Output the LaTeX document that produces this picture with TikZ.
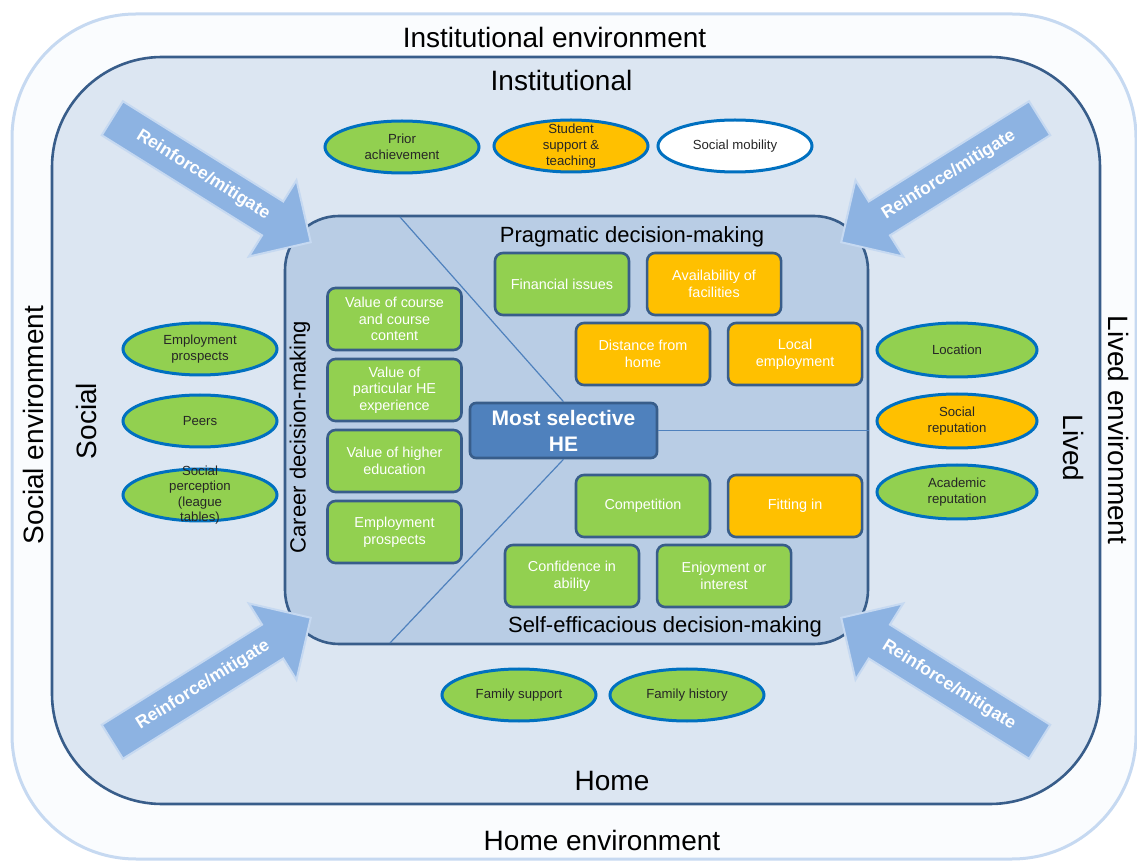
\documentclass[tikz,border=0pt]{standalone}
\usepackage{fontspec}
\setmainfont{Liberation Sans}
\usetikzlibrary{positioning,shapes.geometric,shapes.arrows}
\definecolor{framelight}{HTML}{C6D9F1}
\definecolor{framepale}{HTML}{FAFCFE}
\definecolor{ringfill}{HTML}{DCE6F2}
\definecolor{edgenavy}{HTML}{385D8A}
\definecolor{panelblue}{HTML}{B9CDE5}
\definecolor{leafgreen}{HTML}{92D050}
\definecolor{amber}{HTML}{FFC000}
\definecolor{ovalblue}{HTML}{0070C0}
\definecolor{hubblue}{HTML}{4F81BD}
\definecolor{arrowblue}{HTML}{8DB3E2}

\begin{document}
\begin{tikzpicture}[
  x=0.5pt,y=-0.5pt,
  band/.style={font=\fontsize{14}{16}\selectfont},
  heading/.style={font=\fontsize{11}{13}\selectfont},
  factor/.style={draw=edgenavy,line width=1.3pt,rounded corners=4pt,minimum width=67pt,minimum height=31pt,
    inner sep=1pt,align=center,text=white,font=\fontsize{7.2}{8.3}\selectfont},
  greenfactor/.style={factor,fill=leafgreen},
  amberfactor/.style={factor,fill=amber},
  oval/.style={ellipse,draw=ovalblue,line width=1.5pt,minimum width=77pt,minimum height=26pt,inner sep=0pt},
  ovaltext/.style={align=center,text=black!85,font=\fontsize{6.6}{7.8}\selectfont},
  reinf/.style={single arrow,fill=arrowblue,draw=framelight,line width=1pt,minimum height=117pt,
    single arrow head extend=12.5pt,text height=6.4pt,text depth=1.9pt,inner ysep=5.35pt,inner xsep=2pt,
    text=white,font=\bfseries\fontsize{8.8}{10}\selectfont},
  divider/.style={hubblue,line width=0.6pt}
]
  \useasboundingbox (0,0) rectangle (1137,861);

  % frames
  \node[draw=framelight,fill=framepale,line width=1.5pt,rounded corners=62pt,
    minimum width=562pt,minimum height=422.5pt] (outerframe) at (574,436.5) {};
  \node[draw=edgenavy,fill=ringfill,line width=1.3pt,rounded corners=55pt,
    minimum width=524pt,minimum height=373.5pt] (innerframe) at (576,430.5) {};
  \node[draw=edgenavy,fill=panelblue,line width=1.3pt,rounded corners=27pt,
    minimum width=291.5pt,minimum height=214pt] (panel) at (576.5,430) {};

  % centre and dividers
  \node[draw=edgenavy,fill=hubblue,line width=1.3pt,rounded corners=3pt,minimum width=93.5pt,
    minimum height=27.5pt,inner sep=0pt,text=white,align=center,
    font=\bfseries\fontsize{10.5}{13}\selectfont] (hub) at (563.5,430.5) {Most selective\\HE};
  \coordinate (topcut) at (400,217);
  \coordinate (botcut) at (390,643);
  \draw[divider] (topcut) -- (hub.north);
  \draw[divider] (botcut) -- (hub.south);
  \draw[divider] (hub.east) -- (hub.east -| panel.east);

  % career decision-making
  \node[greenfactor] (coursevalue) at (394.5,319) {Value of course\\and course\\content};
  \node[greenfactor,below=3.2pt of coursevalue] (hevalue) {Value of\\particular HE\\experience};
  \node[greenfactor,below=3.2pt of hevalue] (highered) {Value of higher\\education};
  \node[greenfactor,below=3.2pt of highered] (jobprospects) {Employment\\prospects};

  % pragmatic decision-making
  \node[greenfactor] (finance) at (562,284) {Financial issues};
  \node[amberfactor,right=7.75pt of finance] (facilities) {Availability of\\facilities};
  \node[amberfactor] (distance) at (643,354) {Distance from\\home};
  \node[amberfactor,right=7.75pt of distance] (localjobs) {Local\\employment};

  % self-efficacious decision-making
  \node[greenfactor] (competition) at (643,506) {Competition};
  \node[amberfactor,right=7.75pt of competition] (fitting) {Fitting in};
  \node[greenfactor] (confidence) at (572,576) {Confidence in\\ability};
  \node[greenfactor,right=7.75pt of confidence] (enjoyment) {Enjoyment or\\interest};

  \node[heading] (pragmatic) at (632,237) {Pragmatic decision-making};
  \node[heading] (selfeff) at (665,627) {Self-efficacious decision-making};
  \node[heading,rotate=90] (career) at (300,437) {Career decision-making};

  % institutional ovals
  \node[oval,fill=leafgreen,label={[ovaltext]center:{Prior\\achievement}}] (prior) at (402,147) {};
  \node[oval,fill=amber,label={[ovaltext]center:{Student\\support \&\\teaching}}] (support) at (571,146) {};
  \node[oval,fill=white,label={[ovaltext]center:{Social mobility}}] (mobility) at (735,146) {};

  % social ovals
  \node[oval,fill=leafgreen,label={[ovaltext]center:{Employment\\prospects}}] (socialjobs) at (200,349) {};
  \node[oval,fill=leafgreen,label={[ovaltext]center:{Peers}}] (peers) at (200,421) {};
  \node[oval,fill=leafgreen,label={[ovaltext]center:{Social\\perception\\(league\\tables)}}] (perception) at (200,495) {};

  % lived ovals
  \node[oval,minimum width=80pt,minimum height=27pt,fill=leafgreen,
    label={[ovaltext]center:{Location}}] (location) at (957,350) {};
  \node[oval,minimum width=80pt,minimum height=27pt,fill=amber,
    label={[ovaltext]center:{Social\\reputation}}] (socialrep) at (957,421) {};
  \node[oval,minimum width=80pt,minimum height=27pt,fill=leafgreen,
    label={[ovaltext]center:{Academic\\reputation}}] (academicrep) at (957,492) {};

  % home ovals
  \node[oval,fill=leafgreen,label={[ovaltext]center:{Family support}}] (famsupport) at (519,695) {};
  \node[oval,fill=leafgreen,label={[ovaltext]center:{Family history}}] (famhistory) at (687,695) {};

  % reinforce/mitigate arrows
  \node[reinf,rotate=-32,anchor=tip] (reinfnw) at (312,243) {Reinforce/mitigate};
  \node[reinf,rotate=32,shape border rotate=180,anchor=tip] (reinfne) at (840,243) {Reinforce/mitigate};
  \node[reinf,rotate=32,anchor=tip] (reinfsw) at (312,617) {Reinforce/mitigate};
  \node[reinf,rotate=-32,shape border rotate=180,anchor=tip] (reinfse) at (840,617) {Reinforce/mitigate};

  % environment labels
  \node[band] (instenv) at (554.5,37) {Institutional environment};
  \node[band] (inst) at (561.5,80) {Institutional};
  \node[band] (home) at (612,781) {Home};
  \node[band] (homeenv) at (602,840) {Home environment};
  \node[band,rotate=90] (socialenv) at (33,425) {Social environment};
  \node[band,rotate=90] (social) at (86,421) {Social};
  \node[band,rotate=-90] (livedenv) at (1119,430) {Lived environment};
  \node[band,rotate=-90] (lived) at (1074,448) {Lived};
\end{tikzpicture}
\end{document}
